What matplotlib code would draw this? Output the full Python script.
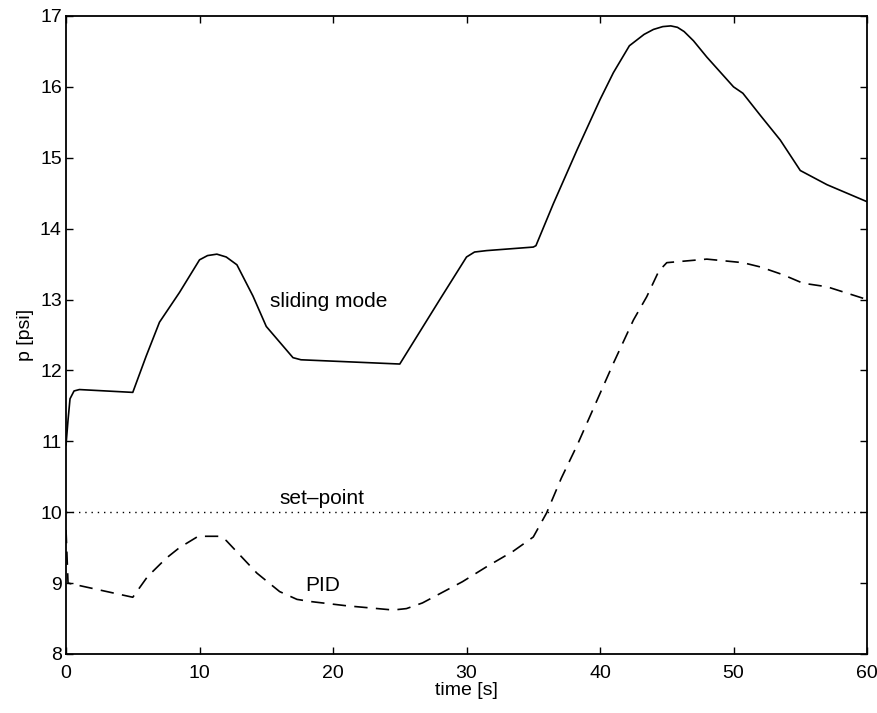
import numpy as np
import matplotlib
matplotlib.use('Agg')
import matplotlib.pyplot as plt

plt.rcParams['font.family'] = ['Liberation Sans', 'DejaVu Sans']

# sliding mode controller response
tSliding = [0, 0.15, 0.3, 0.6, 1.0, 5.0, 6.0, 7.0, 8.5, 10.0, 10.6, 11.3, 12.0, 12.8,
            14.0, 15.0, 16.0, 17.0, 17.6, 25.0, 28.0, 30.0, 30.6, 31.5, 35.0, 35.2,
            36.5, 38.3, 40.0, 41.0, 42.2, 43.3, 44.0, 44.7, 45.3, 45.8, 46.3, 47.0,
            48.0, 50.0, 50.7, 52.0, 53.5, 55.0, 57.0, 60.0]
pSliding = [10.95, 11.3, 11.6, 11.71, 11.73, 11.69, 12.2, 12.68, 13.1, 13.56, 13.62, 13.64,
            13.60, 13.49, 13.05, 12.62, 12.40, 12.18, 12.15, 12.09, 13.0, 13.6, 13.67,
            13.69, 13.74, 13.76, 14.35, 15.12, 15.82, 16.2, 16.58, 16.74, 16.81, 16.85,
            16.86, 16.84, 16.78, 16.65, 16.42, 16.0, 15.91, 15.6, 15.25, 14.82, 14.62, 14.38]

# PID controller response
tPid = [0, 0.15, 5.0, 6.1, 7.5, 8.5, 9.9, 11.5, 12.0, 14.3, 16.0, 17.3, 18.3, 21.0,
        24.5, 25.5, 26.7, 28.0, 29.7, 31.5, 33.5, 35.0, 36.0, 37.1, 38.3, 41.0, 42.5,
        43.5, 44.4, 45.0, 48.0, 50.7, 52.0, 53.7, 55.2, 57.0, 60.0]
pPid = [9.75, 9.0, 8.8, 9.09, 9.35, 9.5, 9.66, 9.66, 9.6, 9.14, 8.88, 8.77, 8.74, 8.68,
        8.62, 8.64, 8.72, 8.85, 9.02, 9.23, 9.45, 9.65, 9.99, 10.48, 10.95, 12.1, 12.71,
        13.04, 13.4, 13.52, 13.57, 13.52, 13.46, 13.35, 13.23, 13.18, 13.0]

setPoint = 10.0
xTicks = [0, 10, 20, 30, 40, 50, 60]
yTicks = [8, 9, 10, 11, 12, 13, 14, 15, 16, 17]

fig = plt.figure(figsize=(8.78, 7.13), dpi=100)
ax = fig.add_axes([0.0752, 0.0828, 0.9123, 0.8948])

ax.plot(tSliding, pSliding, color='black', linewidth=1.2)
ax.plot(tPid, pPid, color='black', linewidth=1.2, linestyle=(0, (8, 5)))
ax.plot([xTicks[0], xTicks[-1]], [setPoint, setPoint], color='black', linewidth=1.0,
        linestyle=(0, (1, 3.5)))

ax.text(19.7, 12.97, 'sliding mode', fontsize=15, ha='center', va='center')
ax.text(19.2, 10.2, 'set\u2013point', fontsize=15, ha='center', va='center')
ax.text(19.2, 8.97, 'PID', fontsize=15, ha='center', va='center')

ax.set_xlim(0, 60)
ax.set_ylim(8, 17)
ax.set_xticks(xTicks)
ax.set_yticks(yTicks)
ax.tick_params(direction='in', length=5, width=1.0, top=True, right=True, labelsize=14)
ax.tick_params(axis='x', pad=8)
ax.tick_params(axis='y', pad=3)
for s in ax.spines.values():
    s.set_linewidth(1.3)

ax.set_xlabel('time [s]', fontsize=14, labelpad=0)
ax.set_ylabel('p [psi]', fontsize=14, labelpad=4)

fig.savefig('out.png', dpi=100)
